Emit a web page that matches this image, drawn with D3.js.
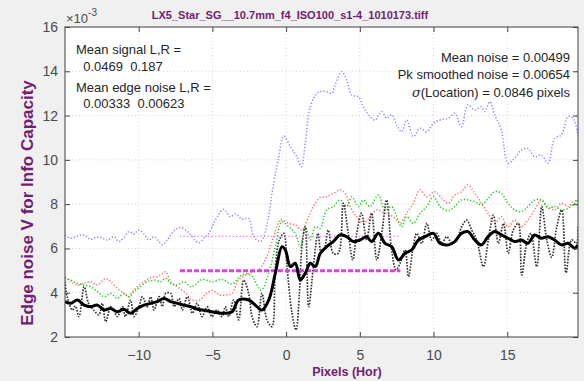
<!DOCTYPE html>
<html><head><meta charset="utf-8">
<script src="https://cdn.jsdelivr.net/npm/d3@7"></script>
<style>
body{margin:0;background:#f0f0f0;}
svg{display:block;font-family:"Liberation Sans",Arial,sans-serif;}
</style></head>
<body><svg id="c" width="584" height="381"></svg>
<script>
const xTicks = [-10,-5,0,5,10,15];
const yTicks = [2,4,6,8,10,12,14,16];
const titleText = "LX5_Star_SG__10.7mm_f4_ISO100_s1-4_1010173.tiff";
const leftNotes = ["Mean signal L,R =","  0.0469  0.187","Mean edge noise L,R =","  0.00333  0.00623"];
const rightNotes = ["Mean noise = 0.00499","Pk smoothed noise = 0.00654","(Location) = 0.0846 pixels"];
const meanNoise = 4.99;     // x1e-3
const pkSmoothed = 6.54;    // x1e-3
const refRange = [-7.2, 7.75];

const blue = [[-15,6.6],[-14.6,6.46],[-14.2,6.55],[-13.7,6.61],[-13.26,6.41],[-12.9,6.5],[-12.58,6.5],[-12.13,6.38],[-11.68,6.53],[-11.34,6.31],[-11.0,6.5],[-10.66,6.76],[-10.32,6.65],[-9.98,6.83],[-9.64,6.65],[-9.3,6.38],[-8.96,6.53],[-8.62,6.31],[-8.4,6.16],[-8.06,6.38],[-7.83,6.61],[-7.49,6.86],[-7.15,6.95],[-6.81,6.83],[-6.47,6.61],[-6.2,6.38],[-5.93,6.26],[-5.6,6.45],[-5.25,6.68],[-4.8,7.28],[-4.5,7.6],[-4.23,7.77],[-3.78,7.43],[-3.44,7.56],[-2.99,7.32],[-2.54,7.36],[-2.2,6.53],[-1.75,6.31],[-1.52,6.53],[-1.2,7.4],[-0.96,8.49],[-0.5,10.14],[-0.16,11.08],[0.29,10.6],[0.74,10.14],[1.03,9.69],[1.3,10.75],[1.64,12.4],[2.1,13.0],[2.4,13.1],[2.75,13.08],[3.1,13.0],[3.32,13.38],[3.77,13.98],[4.11,13.6],[4.45,12.93],[4.9,12.85],[5.24,12.4],[5.69,11.95],[6.03,11.8],[6.49,12.18],[6.82,11.88],[7.16,12.03],[7.5,11.58],[7.84,11.27],[8.18,11.8],[8.63,11.05],[9.08,11.43],[9.54,11.27],[9.99,11.65],[10.44,11.8],[11.0,11.88],[11.44,12.1],[11.89,11.5],[12.34,12.48],[12.8,12.25],[13.24,12.4],[13.47,12.18],[13.81,12.63],[14.15,12.03],[14.6,11.35],[15.05,9.85],[15.5,10.07],[15.96,10.45],[16.4,10.52],[16.86,10.14],[17.31,10.22],[17.77,9.85],[18.22,10.97],[18.67,11.12],[19.13,11.95],[19.47,11.88],[19.8,11.12]];

const red = [[-15,4.72],[-14.6,4.5],[-14.16,4.35],[-13.7,4.42],[-13.26,4.5],[-12.8,4.35],[-12.24,4.65],[-11.9,4.5],[-11.45,4.2],[-11.0,3.97],[-10.66,3.82],[-10.43,4.05],[-10.1,4.27],[-9.64,4.5],[-9.19,4.69],[-8.74,4.72],[-8.4,4.87],[-8.17,4.95],[-7.83,4.5],[-7.38,4.27],[-6.93,4.05],[-6.59,3.82],[-6.38,3.67],[-5.84,3.67],[-5.5,3.9],[-5.03,4.1],[-4.48,3.9],[-4.0,3.9],[-3.67,3.97],[-3.22,4.57],[-2.54,4.87],[-1.86,5.03],[-1.41,5.48],[-0.84,6.53],[-0.39,7.28],[0.18,7.13],[0.62,7.06],[1.08,6.83],[1.53,7.43],[1.98,8.04],[2.32,8.3],[2.75,8.34],[3.2,8.49],[3.66,8.64],[4.0,8.49],[4.34,7.89],[4.79,7.43],[5.24,7.13],[5.69,7.43],[6.15,7.74],[6.71,7.59],[7.27,7.43],[7.73,7.13],[8.18,7.59],[8.63,8.04],[9.08,8.64],[9.54,8.34],[10.1,8.56],[10.56,8.26],[11.0,8.04],[11.44,8.41],[11.89,8.56],[12.34,8.86],[12.8,8.49],[13.24,8.04],[13.7,7.59],[14.15,7.13],[14.6,7.43],[15.05,6.98],[15.5,7.28],[15.96,6.98],[16.4,7.28],[16.86,7.74],[17.31,8.19],[17.77,7.89],[18.22,7.74],[18.67,8.04],[19.13,7.89],[19.47,8.11],[19.8,8.19]];

const green = [[-15,4.65],[-14.6,4.57],[-14.16,4.42],[-13.7,4.35],[-13.26,4.27],[-12.8,4.05],[-12.35,3.82],[-11.9,3.97],[-11.45,3.74],[-11.0,3.97],[-10.66,3.82],[-10.32,4.05],[-9.87,4.27],[-9.41,4.5],[-8.96,4.57],[-8.51,4.5],[-8.17,4.65],[-7.83,4.42],[-7.38,4.35],[-6.93,4.5],[-6.47,4.27],[-6.2,4.35],[-5.7,4.6],[-5.03,4.5],[-4.35,4.6],[-3.67,4.4],[-2.99,4.8],[-2.4,4.8],[-1.7,4.12],[-1.18,4.88],[-0.73,6.08],[-0.3,7.2],[0.18,6.98],[0.62,6.68],[0.96,6.08],[1.3,6.98],[1.64,6.38],[1.98,6.98],[2.3,6.9],[2.75,7.74],[3.2,7.89],[3.66,8.19],[4.11,7.89],[4.45,8.34],[4.9,7.89],[5.24,8.19],[5.69,7.89],[6.26,8.41],[6.71,7.74],[7.16,7.89],[7.5,7.43],[7.84,6.98],[8.18,7.43],[8.63,7.13],[9.08,7.59],[9.54,7.89],[9.99,8.34],[10.44,7.89],[11.0,7.7],[11.44,7.89],[11.89,8.19],[12.34,8.19],[12.8,8.11],[13.24,7.97],[13.7,8.26],[14.15,8.56],[14.6,8.49],[15.05,8.04],[15.5,7.74],[15.96,7.66],[16.4,7.89],[16.86,8.19],[17.31,8.19],[17.77,7.81],[18.22,7.89],[18.67,7.74],[19.13,7.81],[19.58,8.04],[19.8,8.19]];

const edgeNoise = [[-15,4.5],[-14.85,3.82],[-14.5,3.22],[-14.3,3.4],[-14.05,2.92],[-13.7,4.27],[-13.4,3.52],[-13.05,3.22],[-12.7,3.0],[-12.47,3.52],[-12.24,2.69],[-11.9,3.37],[-11.7,3.22],[-11.45,2.92],[-11.1,3.37],[-10.9,2.92],[-10.55,3.67],[-10.32,2.92],[-9.98,3.37],[-9.75,3.82],[-9.41,3.37],[-9.19,3.82],[-8.96,3.22],[-8.62,3.82],[-8.4,3.37],[-8.17,3.97],[-7.83,3.97],[-7.6,3.37],[-7.26,3.74],[-7.04,3.22],[-6.7,3.82],[-6.36,3.07],[-6.04,3.52],[-5.7,2.92],[-5.36,3.37],[-5.03,2.92],[-4.69,3.22],[-4.35,2.92],[-4.12,3.37],[-3.9,2.92],[-3.56,3.67],[-3.22,2.77],[-2.88,4.57],[-2.54,3.97],[-2.31,2.92],[-1.98,2.47],[-1.64,3.97],[-1.3,2.77],[-0.96,2.47],[-0.73,5.18],[-0.46,6.38],[-0.16,6.68],[0.06,5.18],[0.4,3.07],[0.67,2.32],[0.9,3.97],[1.07,6.08],[1.3,6.98],[1.53,3.37],[1.87,5.33],[2.16,6.68],[2.38,5.8],[2.6,6.0],[2.86,6.83],[3.2,5.78],[3.54,5.78],[3.88,8.04],[4.22,6.68],[4.52,5.48],[4.79,6.68],[5.12,7.59],[5.46,6.38],[5.8,7.59],[6.15,5.48],[6.49,6.68],[6.82,8.19],[7.16,5.93],[7.46,5.03],[7.73,5.33],[8.07,5.93],[8.3,4.72],[8.59,5.93],[8.86,6.68],[9.2,6.23],[9.54,7.13],[9.88,6.38],[10.22,6.68],[10.56,6.23],[10.9,6.53],[11.24,6.23],[11.57,6.38],[11.91,6.98],[12.25,7.28],[12.59,6.83],[12.93,6.38],[13.38,5.18],[13.72,6.38],[14.06,7.5],[14.4,6.23],[14.74,7.13],[15.07,5.78],[15.41,6.83],[15.75,7.13],[15.98,4.8],[16.32,6.23],[16.6,6.68],[17.0,5.18],[17.34,7.9],[17.68,6.38],[18.02,5.6],[18.36,6.98],[18.7,7.74],[18.99,4.9],[19.37,6.38],[19.7,6.23],[19.8,7.0]];

const smoothed = [[-15,3.6],[-14.6,3.52],[-14.16,3.67],[-13.7,3.44],[-13.26,3.37],[-12.8,3.44],[-12.35,3.22],[-11.9,3.29],[-11.45,3.14],[-11.0,3.25],[-10.55,3.07],[-10.1,3.29],[-9.64,3.44],[-9.19,3.52],[-8.74,3.6],[-8.29,3.74],[-7.83,3.6],[-7.38,3.52],[-6.93,3.44],[-6.47,3.37],[-6.0,3.25],[-5.5,3.2],[-5.03,3.14],[-4.35,3.07],[-3.67,3.14],[-3.22,3.67],[-2.54,3.67],[-1.98,3.37],[-1.64,3.22],[-1.18,3.67],[-0.73,4.88],[-0.28,6.08],[-0.05,5.93],[0.29,5.18],[0.62,5.33],[0.96,4.57],[1.3,4.88],[1.64,5.33],[1.98,5.18],[2.32,5.78],[2.75,6.08],[3.2,6.31],[3.66,6.61],[4.11,6.53],[4.56,6.31],[5.01,6.38],[5.46,6.53],[5.8,6.31],[6.26,6.68],[6.71,6.23],[7.16,6.08],[7.62,5.48],[8.07,5.78],[8.52,5.93],[8.97,6.38],[9.43,6.53],[9.99,6.68],[10.44,6.23],[11.0,6.16],[11.44,6.31],[11.89,6.68],[12.34,6.76],[12.8,6.38],[13.24,6.16],[13.7,6.53],[14.15,6.76],[14.6,6.61],[15.05,6.46],[15.5,6.31],[15.96,6.38],[16.4,6.23],[16.86,6.61],[17.31,6.46],[17.77,6.53],[18.22,6.38],[18.67,6.16],[19.13,6.23],[19.58,6.01],[19.8,6.16]];

const svg = d3.select("#c");
const L = 65, R = 578, T = 27, B = 337;
const x = d3.scaleLinear().domain([-15, 19.8]).range([L, R]);
const y = d3.scaleLinear().domain([2, 16]).range([B, T]);
const purple = "#731c73", ink = "#262626", tickCol = "#444";

svg.append("rect").attr("width",584).attr("height",381).attr("fill","#f0f0f0");
svg.append("rect").attr("x",L).attr("y",T).attr("width",R-L).attr("height",B-T).attr("fill","#fff");

// grid
const grid = svg.append("g").attr("stroke","#c8c8c8").attr("stroke-width",0.8).attr("stroke-dasharray","1,2.5");
grid.selectAll(".gx").data(xTicks).join("line").attr("x1",d=>x(d)).attr("x2",d=>x(d)).attr("y1",T).attr("y2",B);
grid.selectAll(".gy").data(yTicks.filter(d=>d>2&&d<16)).join("line").attr("y1",d=>y(d)).attr("y2",d=>y(d)).attr("x1",L).attr("x2",R);

svg.append("clipPath").attr("id","pc").append("rect").attr("x",L).attr("y",T).attr("width",R-L).attr("height",B-T);
const plot = svg.append("g").attr("clip-path","url(#pc)");
const line = d3.line().x(d=>x(d[0])).y(d=>y(d[1])).curve(d3.curveCatmullRom.alpha(0.5));

function dotted(data, color, w){
  plot.append("path").datum(data).attr("d",line).attr("fill","none").attr("stroke",color)
    .attr("stroke-width",w).attr("stroke-dasharray","1.3,1.9");
}
dotted(blue, "#8a8aff", 1.5);
dotted(red, "#ff7070", 1.5);
dotted(green, "#22cc22", 1.5);
plot.append("path").datum(edgeNoise).attr("d",line).attr("fill","none").attr("stroke","#333").attr("stroke-width",1.7).attr("stroke-dasharray","1.6,1.4");

// reference lines
plot.append("line").attr("x1",x(refRange[0])).attr("x2",x(refRange[1])).attr("y1",y(pkSmoothed)).attr("y2",y(pkSmoothed))
  .attr("stroke","#ff70ff").attr("stroke-width",1.2).attr("stroke-dasharray","1.3,2.2");
plot.append("line").attr("x1",x(refRange[0])).attr("x2",x(refRange[1])).attr("y1",y(meanNoise)).attr("y2",y(meanNoise))
  .attr("stroke","#e040e8").attr("stroke-width",3).attr("stroke-dasharray","5,2");

plot.append("path").datum(smoothed).attr("d",line).attr("fill","none").attr("stroke","#000").attr("stroke-width",3).attr("stroke-linejoin","round");

// axes
function styleAxis(g){
  g.select(".domain").remove();
  g.selectAll(".tick line").attr("stroke",tickCol);
  g.selectAll(".tick text").attr("fill","#4a4a4a").attr("font-size","14px").attr("font-family","Liberation Sans, Arial, sans-serif");
}
svg.append("g").attr("transform",`translate(0,${B})`).call(d3.axisBottom(x).tickValues(xTicks).tickSize(-5).tickPadding(13).tickFormat(d3.format("d"))).call(styleAxis);
svg.append("g").attr("transform",`translate(0,${T})`).call(d3.axisTop(x).tickValues(xTicks).tickSize(-5).tickFormat("")).call(styleAxis);
svg.append("g").attr("transform",`translate(${L},0)`).call(d3.axisLeft(y).tickValues(yTicks).tickSize(-5).tickPadding(7).tickFormat(d3.format("d"))).call(styleAxis);
svg.append("g").attr("transform",`translate(${R},0)`).call(d3.axisRight(y).tickValues(yTicks).tickSize(-5).tickFormat("")).call(styleAxis);
svg.append("rect").attr("x",L).attr("y",T).attr("width",R-L).attr("height",B-T).attr("fill","none").attr("stroke","#404040").attr("stroke-width",1);

// exponent
const ex = svg.append("text").attr("x",66).attr("y",23).attr("fill","#4a4a4a").attr("font-size","13px");
ex.append("tspan").text("\u00d710");
ex.append("tspan").attr("dy",-7).attr("font-size","10px").text("-3");

// title & labels
svg.append("text").attr("x",290).attr("y",19).attr("text-anchor","middle").attr("fill",purple).attr("font-weight","bold").attr("font-size","11px").text(titleText);
svg.append("text").attr("x",347).attr("y",376).attr("text-anchor","middle").attr("fill",purple).attr("font-weight","bold").attr("font-size","12.5px").text("Pixels (Hor)");
svg.append("text").attr("transform","translate(33,203) rotate(-90)").attr("text-anchor","middle").attr("fill",purple).attr("font-weight","bold").attr("font-size","17px").text("Edge noise V for Info Capacity");

// annotations
const lb = [54,71,92,108];
leftNotes.forEach((t,i)=>{
  svg.append("text").attr("x",76).attr("y",lb[i]).attr("fill",ink).attr("font-size","13px").style("white-space","pre").text(t);
});
const rb = [62,79,97];
rightNotes.forEach((t,i)=>{
  const tx = svg.append("text").attr("x",570).attr("y",rb[i]).attr("text-anchor","end").attr("fill",ink).attr("font-size","13px");
  if(i===2){ tx.append("tspan").attr("font-style","italic").attr("font-family","DejaVu Serif, serif").text("\u03c3"); }
  tx.append("tspan").text(t);
});
</script></body></html>
